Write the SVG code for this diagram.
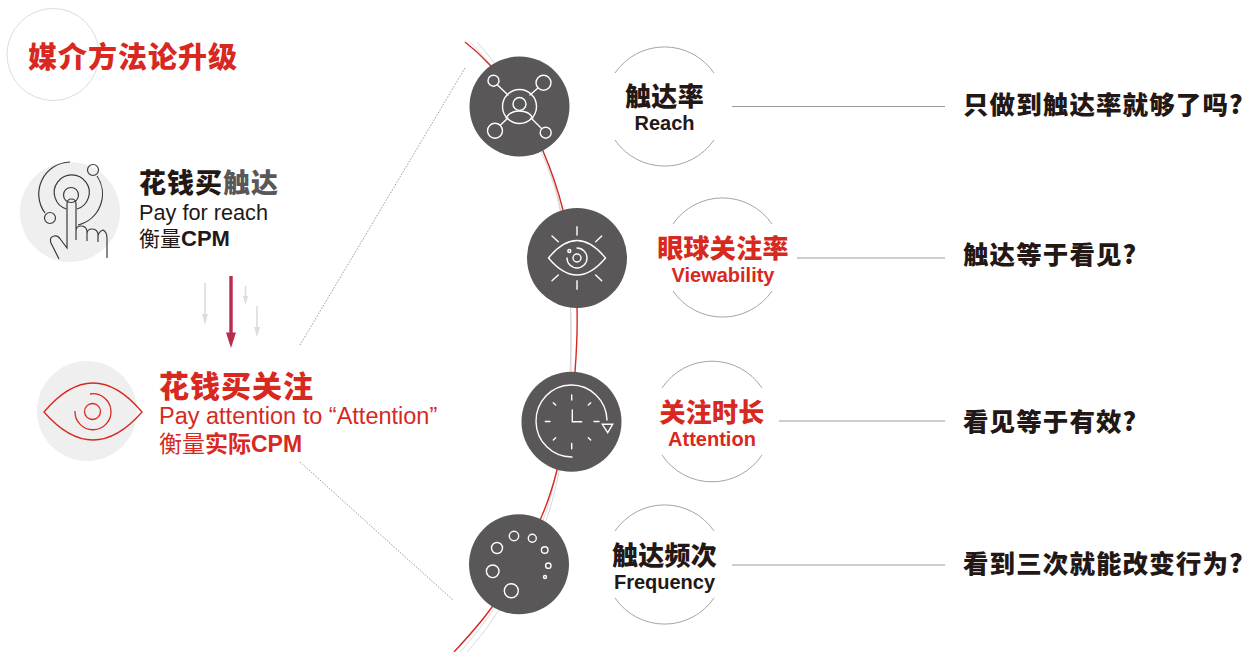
<svg xmlns="http://www.w3.org/2000/svg" width="1252" height="652" viewBox="0 0 1252 652">
<defs>
<style>
text{font-family:"Liberation Sans","Noto Sans CJK SC",sans-serif;fill:#231815}
.b{font-weight:700}
.r{fill:#d7291f}
.g{fill:#595757}
.cn{font-family:"Noto Sans CJK SC",sans-serif;font-weight:900}
.h1{font-size:26px;letter-spacing:.3px;text-anchor:middle}
.en{font-size:20px;font-weight:700;text-anchor:middle}
.q{font-size:25.500px;letter-spacing:1.100px}
.dark{fill:#595757}
.lt{fill:#efefef}
.w{fill:none;stroke:#fff;stroke-width:1.400;stroke-linecap:round}
.k{fill:none;stroke:#3e3a39;stroke-width:1.200}
.rl{fill:none;stroke:#d7291f;stroke-width:1.300}
.arc{fill:none;stroke:#9a9a9a;stroke-width:.9}
.line{fill:none;stroke:#9a9a9a;stroke-width:1}
.dot{fill:none;stroke:#9a9a9a;stroke-width:1;stroke-dasharray:1.500 1.500}
.gr{fill:none;stroke:#d4d4d4;stroke-width:.9}
.ga{stroke:#dcdddd;stroke-width:1.600;fill:none}
.gh{fill:#dcdddd}
</style>
</defs>
<g id="connectors">
<path class="gr" d="M470 42C520 92 555 175 560 210C567 245 571 290 571 335C571 350 570.500 360 570 372C570 420 552 500 543 520C525 558 497 612 460 652"/>
<path class="gr" d="M477 42C530 100 556 180 561 212C568 245 571 290 571 335C571 350 571 360 571 372C571 420 555 500 546 520C528 558 504 612 467 652"/>
<path d="M465 42Q478 52 490 65C515 92 533 128 543 151C552 172 558 190 563 210C570 240 577 275 577 308C577.500 325 577 345 575 372C572 405 565 440 557 470C552 490 547 505 540 520C525 552 510 582 492 607C480 624 467 638 454 652" fill="none" stroke="#d7291f" stroke-width="1.400"/>
<path class="dot" d="M465 68L300 345"/>
<path class="dot" d="M300 462L453 600"/>
<path class="line" d="M732 106.500H945M797 258H945M779 421H945M732 565H945"/>
<path class="ga" d="M205 283V314"/><path class="gh" d="M202 314H208L205 325Z"/>
<path class="ga" d="M245.500 286V297"/><path class="gh" d="M243 296H248L245.500 305Z"/>
<path class="ga" d="M257 306V327"/><path class="gh" d="M254 327H260L257 337Z"/>
<path d="M231 276V334" stroke="#b92c4e" stroke-width="3.400" fill="none"/><path d="M226 332.500H236L231 348Z" fill="#b92c4e"/>
</g>
<g id="title">
<circle cx="53" cy="54.500" r="46" fill="none" stroke="#dcdddd" stroke-width="1"/>
<text class="cn r" x="28" y="68" font-size="29" letter-spacing="1">媒介方法论升级</text>
</g>
<g id="pay-reach">
<circle class="lt" cx="70" cy="212" r="50"/>
<circle class="k" cx="71" cy="195" r="7.500"/>
<path class="k" d="M66.500 209A17.500 17.500 0 1 1 77 209"/>
<path class="k" d="M45 213A32 32 0 0 1 70 162M97 176A32 32 0 0 1 78 225"/>
<circle class="k" cx="93" cy="170" r="5.500"/>
<circle class="k" cx="50" cy="218" r="5.500"/>
<path class="k" d="M59 259L51 243Q49 237 54 236Q58 235 61 240L67 248V204Q67 199 71.500 199Q76 199 76 204V240V231Q76 226 81 226Q86 226 87 231V241V234Q87 229 92 229Q97 229 98 234V242V237Q98 232 103 230Q107 232 107 238V258"/>
</g>
<g id="pay-reach-text">
<text class="cn" x="139" y="193" font-size="27" letter-spacing="1">花钱买<tspan class="g">触达</tspan></text>
<text x="139" y="220" font-size="21.700">Pay for reach</text>
<text x="139" y="246" font-size="21">衡量<tspan class="b" font-size="22">CPM</tspan></text>
</g>
<g id="pay-attention">
<circle class="lt" cx="87" cy="411" r="50"/>
<path class="rl" d="M44 412Q93 354 142 412Q93 468 44 412Z"/>
<circle class="rl" cx="92.500" cy="411.500" r="8"/>
<path class="rl" d="M75 411A18 18 0 1 0 90 394"/>
</g>
<g id="pay-attention-text">
<text class="cn r" x="159" y="397" font-size="30" letter-spacing="1">花钱买关注</text>
<text class="r" x="159" y="424" font-size="23.500">Pay attention to “Attention”</text>
<text class="r" x="159" y="452" font-size="23">衡量<tspan class="b">实际CPM</tspan></text>
</g>
<g id="reach">
<circle class="dark" cx="519.500" cy="106.500" r="50"/>
<circle class="w" cx="519.500" cy="106.500" r="17"/>
<circle class="w" cx="519.500" cy="104" r="6.500"/>
<path class="w" d="M506 118Q510 111 519.500 111Q529 111 533 118"/>
<circle class="w" cx="493.500" cy="80.700" r="5.500"/>
<circle class="w" cx="543.500" cy="82.700" r="7.500"/>
<circle class="w" cx="495" cy="130.700" r="7.500"/>
<circle class="w" cx="545.700" cy="132.700" r="5.500"/>
<path class="w" d="M497.500 85L508 95M538 88L530 95M500.500 125L508 118M541.500 128.500L531 118"/>
<path class="arc" d="M615 73A60 60 0 0 1 714 73M615 140A60 60 0 0 0 714 140"/>
<text class="cn h1" x="664.500" y="106">触达率</text>
<text class="en" x="664.500" y="130">Reach</text>
</g>
<g id="viewability">
<circle class="dark" cx="577" cy="258" r="50"/>
<path class="w" d="M548.500 258Q577 223 605.500 258Q577 292 548.500 258Z"/>
<circle class="w" cx="577" cy="258" r="4"/>
<path class="w" d="M567 258A10 10 0 1 0 577 248"/>
<circle class="w" cx="569.300" cy="251" r="1.500"/>
<path class="w" d="M577 226.700V235M577 280.700V289.300M552 236L558.300 241.700M601.700 236L595.700 241.700M552 280.700L558.300 275M601.700 280.700L595.700 275"/>
<path class="arc" d="M673 224A60 60 0 0 1 772 224M673 291A60 60 0 0 0 772 291"/>
<text class="cn h1 r" x="723" y="258">眼球关注率</text>
<text class="en r" x="723" y="282">Viewability</text>
</g>
<g id="attention">
<circle class="dark" cx="571.500" cy="421.700" r="50"/>
<path class="w" d="M607 420A35.500 36 0 1 0 572 457"/>
<path class="w" d="M602.300 424.300H612.700L607.700 432.700Z"/>
<path class="w" d="M571.700 395V400M571.700 443.500V448.700M545.300 421.500H550M594 421.500H599M553.300 402.700L555.700 405M590.700 402.700L588.300 405M553.300 440L555.700 437.700M590.700 440L588.300 437.700M572.300 410V421.700H581.700"/>
<path class="arc" d="M662 388A60 60 0 0 1 762 388M662 455A60 60 0 0 0 762 455"/>
<text class="cn h1 r" x="712" y="422">关注时长</text>
<text class="en r" x="712" y="446">Attention</text>
</g>
<g id="frequency">
<circle class="dark" cx="519" cy="564.300" r="50"/>
<circle class="w" cx="514" cy="536" r="4.700"/>
<circle class="w" cx="532.300" cy="538.300" r="4"/>
<circle class="w" cx="544.700" cy="550" r="3.300"/>
<circle class="w" cx="548.300" cy="565.700" r="2.700"/>
<circle class="w" cx="545" cy="577" r="1.500"/>
<circle class="w" cx="497" cy="548" r="5.500"/>
<circle class="w" cx="492.700" cy="571.300" r="6.300"/>
<circle class="w" cx="511.300" cy="590.700" r="7"/>
<path class="arc" d="M615 531A60 60 0 0 1 714 531M615 598A60 60 0 0 0 714 598"/>
<text class="cn h1" x="664.500" y="565">触达频次</text>
<text class="en" x="664.500" y="589">Frequency</text>
</g>
<g id="questions">
<text class="cn q" x="963" y="114">只做到触达率就够了吗?</text>
<text class="cn q" x="963" y="264">触达等于看见?</text>
<text class="cn q" x="963" y="431">看见等于有效?</text>
<text class="cn q" x="963" y="573">看到三次就能改变行为?</text>
</g>
</svg>
